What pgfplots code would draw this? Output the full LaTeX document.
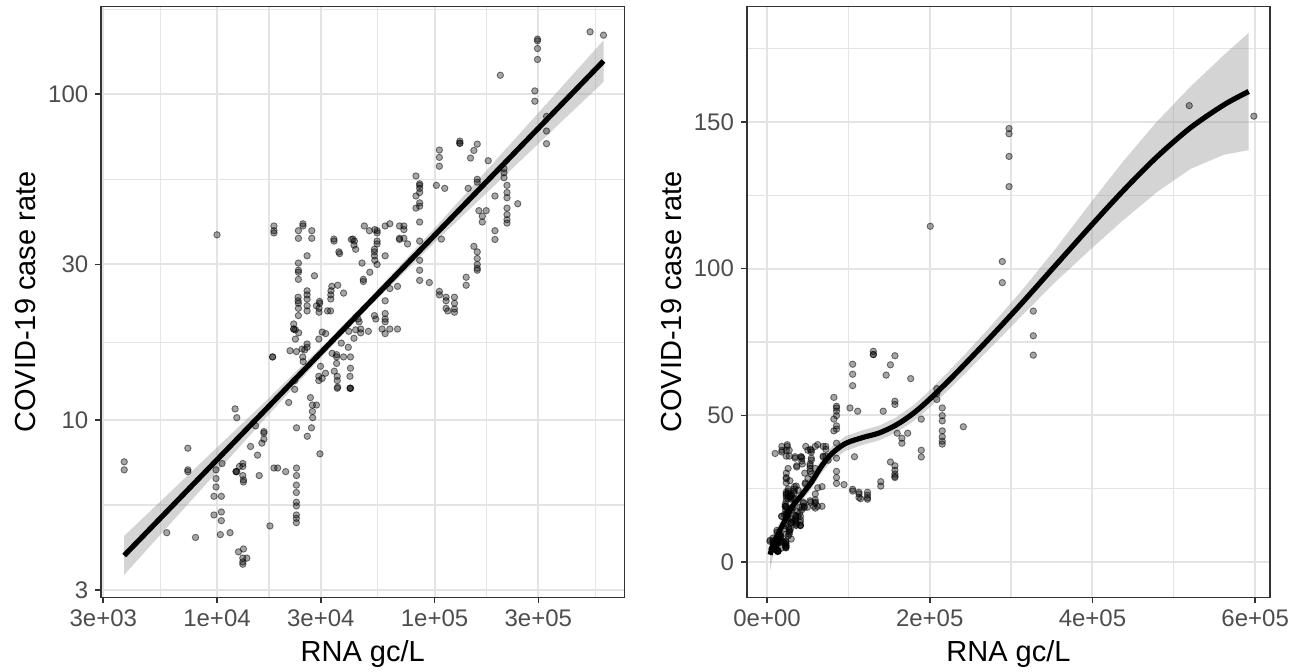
\documentclass[border=0pt]{standalone}
\usepackage{fontspec}
\setmainfont{Liberation Sans}
\usepackage{pgfplots}
\pgfplotsset{compat=1.18}
\usepackage{pgfplotstable}

\definecolor{gridc}{RGB}{228,228,228}
\definecolor{g20}{RGB}{51,51,51}
\definecolor{g30}{RGB}{77,77,77}

\pgfplotstableread{
x y
519000 155.5
598400 151.9
297500 147.7
297500 145.9
297500 138.2
297500 127.9
200700 114.4
289200 102.4
289200 95.2
327300 85.5
327300 77.1
327300 70.5
130700 71.8
130700 70.7
130700 70.7
157200 70.3
151700 67.2
146400 63.7
105270 67.4
105270 64.0
105270 60.1
176600 62.5
208700 59.1
208700 57.4
208700 55.4
215400 52.5
215400 49.9
215400 48.1
215400 44.7
215400 42.7
215400 41.2
215400 40.2
241300 46.1
189600 48.7
157200 54.8
157200 53.7
142800 51.4
101970 52.5
111400 51.4
82170 56.1
85420 53.1
85420 52.5
85420 51.4
85420 49.9
82170 48.7
85420 46.4
85420 45.3
82170 44.7
85420 40.5
160000 43.9
172900 43.9
165800 42.2
165800 40.5
189600 38.1
189600 35.8
107540 35.9
85420 35.4
151700 34.1
157200 32.8
157200 31.3
157200 30.0
157200 29.2
157200 28.8
139800 27.4
139800 25.9
85420 30.9
85420 28.8
85420 26.8
94650 26.4
105270 24.8
105270 24.2
113000 23.8
113000 23.2
113000 22.0
115020 21.6
123500 23.8
123500 22.8
123500 21.9
123500 21.4
67590 25.7
62300 25.3
59300 23.2
59300 31.9
52930 20.9
53690 20.4
59300 21.2
59300 20.4
59300 20.0
57410 19.0
62300 19.0
67590 19.0
47580 39.4
50180 38.1
53150 38.4
54450 38.1
54450 37.5
59300 39.4
62300 40.0
69040 39.4
72300 39.4
72300 38.4
69040 36.1
72300 36.1
75160 34.7
69040 35.8
54450 35.4
54450 34.7
52930 33.4
52930 32.8
52930 31.9
53150 30.9
54450 30.0
46410 30.3
50410 28.4
47080 27.0
47080 26.6
41450 35.8
42170 35.9
42840 35.4
42630 34.4
43390 33.4
36350 32.8
36610 32.4
34450 35.9
34520 35.4
38190 24.5
35880 25.9
33730 25.7
33420 24.9
33350 24.2
33350 23.5
32210 21.6
33270 21.6
29590 23.1
29660 22.8
29450 22.0
29450 21.4
28670 22.4
28060 27.7
25950 31.9
23670 30.3
23670 28.8
23670 28.4
23670 27.0
25950 24.9
25950 24.2
25950 23.5
25950 22.4
25950 21.6
23590 23.8
23590 23.2
23670 22.8
23670 22.0
23670 20.9
24830 40.0
24830 39.4
27270 38.1
27270 36.1
23670 38.1
23670 36.1
18270 39.4
18270 38.1
18270 37.5
10000 37.0
44480 20.4
45010 20.0
45760 19.0
22520 19.7
22520 19.0
22520 19.0
22930 18.9
23750 18.5
22930 17.7
59300 18.4
49650 18.7
45760 18.5
43390 18.9
40340 18.7
42630 17.8
30440 18.6
31600 18.4
29380 17.7
40140 16.7
41070 15.6
41070 14.4
40860 13.6
40860 12.5
41070 12.5
41070 12.5
33810 16.0
35460 15.85
35460 15.6
38190 15.6
35460 14.9
34600 14.1
35710 13.6
35710 13.2
35880 12.6
35710 12.5
37270 17.2
21660 16.3
23170 16.2
24610 16.5
25950 17.1
25950 16.7
25310 16.4
24780 15.6
24900 15.1
18010 15.6
18010 15.6
29910 14.6
31530 13.9
29380 13.6
29380 13.2
30440 13.4
22760 13.2
22760 12.4
21360 11.3
26890 11.7
27460 11.1
28670 11.1
27460 10.6
27530 10.15
23200 9.45
27180 9.45
26000 8.9
29730 7.86
12110 10.8
12330 10.15
15040 9.58
16430 9.2
16430 9.1
16430 8.72
16080 8.48
14260 8.28
15350 7.79
7345 8.18
3745 7.43
3745 7.02
7345 7.02
7345 6.93
10550 7.34
9895 7.02
9895 6.60
9895 6.22
9685 5.82
10470 5.82
12240 6.93
12240 6.93
12330 6.93
12680 7.19
13140 7.34
13140 7.19
13140 6.74
13230 6.54
13230 6.44
15630 6.74
18270 7.11
19000 7.11
20690 6.93
23200 7.11
23200 6.74
23170 6.30
23170 5.98
23170 5.58
23170 5.44
23170 5.10
23170 4.98
23170 4.83
9685 5.10
10470 5.21
10470 4.90
5875 4.50
7970 4.35
10360 4.44
11480 4.50
17510 4.72
12550 3.93
13230 4.01
13140 3.76
13710 3.76
13140 3.66
13140 3.60
}\pts

\pgfplotsset{
  panel/.style={
    scale only axis, width=261.75pt, height=295.3pt, anchor=south west,
    axis line style={g20, line width=0.8pt},
    tick style={g20, line width=0.8pt},
    tick align=outside, tick pos=left,
    major tick length=2.85pt, minor tick length=0pt,
    grid=both,
    major grid style={gridc, line width=1pt},
    minor grid style={gridc, line width=0.6pt},
    tick label style={font=\fontsize{12}{14}\selectfont, text=g30},
    label style={font=\fontsize{14.5}{17}\selectfont, text=black},
    /pgf/number format/assume math mode=true,
    scaled x ticks=false, scaled y ticks=false,
    xlabel={RNA gc/L}, ylabel={COVID-19 case rate},
    x label style={at={(axis description cs:0.5,-0.1079)}, anchor=base},
    y label style={at={(axis description cs:-0.1242,0.5)}, anchor=base, rotate=0},
  },
  pts/.style={only marks, mark=*, mark size=1.6pt,
    mark options={fill=black, fill opacity=0.35, draw=black, draw opacity=0.5, line width=0.45pt}},
  rib/.style={draw=none, fill=black!40, fill opacity=0.42},
  fit/.style={black, line width=2.6pt, no marks},
}

\begin{document}
\begin{tikzpicture}
\begin{axis}[panel, at={(50.5pt,36.85pt)},
  xmode=log, ymode=log,
  xmin=2929, xmax=747200, ymin=2.849, ymax=185.8,
  xtick={3000,10000,30000,100000,300000},
  xticklabels={3e+03,1e+04,3e+04,1e+05,3e+05},
  minor xtick={5477,17321,54772,173205,547723},
  ytick={3,10,30,100}, yticklabels={3,10,30,100},
  minor ytick={5.477,17.32,54.77,182.6},
]
\addplot[pts] table[x=x,y=y] {\pts};
\addplot[rib] coordinates {
 (3745,4.40) (7943,7.10) (15850,11.02) (31620,17.26) (50120,23.59) (100000,38.77) (199500,64.73) (398100,108.1) (598400,146.5)
 (598400,109.1) (398100,84.31) (199500,54.34) (100000,35.03) (50120,22.22) (31620,16.10) (15850,9.73) (7943,5.83) (3745,3.34)
};
\addplot[fit] coordinates {(3745,3.83) (598400,126.5)};
\end{axis}

\begin{axis}[panel, at={(373.35pt,36.85pt)},
  xmin=-24960, xmax=618500, ymin=-12, ymax=189.2,
  xtick={0,200000,400000,600000},
  xticklabels={0e+00,2e+05,4e+05,6e+05},
  minor xtick={100000,300000,500000},
  ytick={0,50,100,150}, yticklabels={0,50,100,150},
  minor ytick={25,75,125,175},
]
\addplot[pts] table[x=x,y=y] {\pts};
\addplot[rib] coordinates {
 (3745,8.0) (8000,10.0) (13300,12.2) (21600,16.5) (29900,20.8) (42400,25.0) (54800,29.5) (67300,35.1) (79800,39.4) (96400,42.9) (117200,44.9) (138000,46.5) (158700,49.3) (179500,53.3) (200300,58.5) (229400,66.7) (270900,79.1) (312500,92.3) (354000,106.5) (395600,121.6) (437100,136.3) (478700,149.9) (520200,161.9) (561800,172.8) (592000,180.3)
 (592000,140.3) (561800,138.8) (520200,133.9) (478700,125.9) (437100,116.3) (395600,106.0) (354000,95.3) (312500,83.7) (270900,71.9) (229400,60.3) (200300,52.7) (179500,47.9) (158700,44.1) (138000,41.5) (117200,39.9) (96400,37.9) (79800,34.6) (67300,30.5) (54800,25.1) (42400,20.6) (29900,16.2) (21600,11.5) (13300,6.6) (8000,3.0) (3745,-3.0)
};
\addplot[fit, smooth] coordinates {
 (3745,2.5) (8000,6.5) (13300,9.4) (21600,14.0) (29900,18.5) (42400,22.8) (54800,27.3) (67300,32.8) (79800,37.0) (96400,40.4) (117200,42.4) (138000,44.0) (158700,46.7) (179500,50.6) (200300,55.6) (229400,63.5) (270900,75.5) (312500,88.0) (354000,100.9) (395600,113.8) (437100,126.3) (478700,137.9) (520200,147.9) (561800,155.8) (592000,160.3)
};
\end{axis}
\pgfresetboundingbox
\path[use as bounding box] (0,0) rectangle (647pt,335.5pt);
\end{tikzpicture}
\end{document}
